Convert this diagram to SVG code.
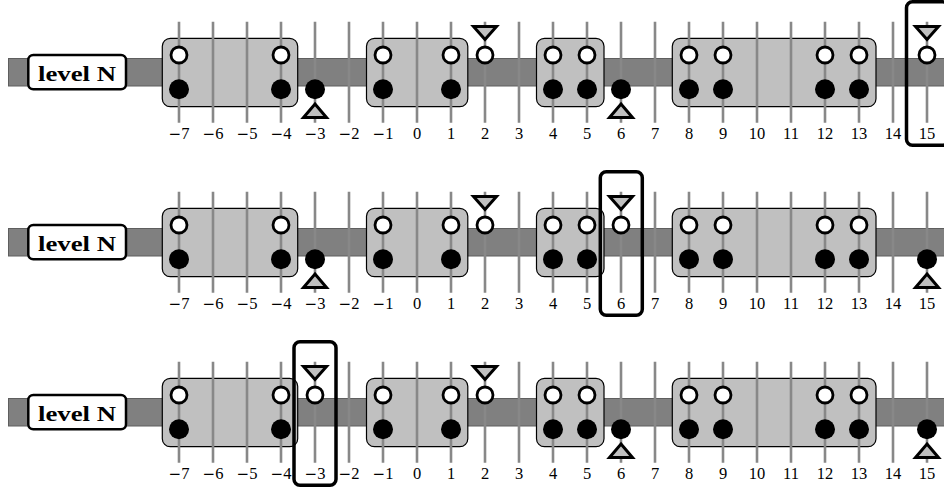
<svg xmlns="http://www.w3.org/2000/svg" xmlns:xlink="http://www.w3.org/1999/xlink" width="944" height="488" viewBox="0 0 944 488">
<style>
.bg{fill:#fff}
.bar{fill:#808080;stroke:#5e5e5e;stroke-width:1}
.box{fill:#c0c0c0;stroke:#000;stroke-width:1.2}
.tick{stroke:#888;stroke-width:2.6;fill:none}
.open{fill:#fff;stroke:#000;stroke-width:2.8}
.full{fill:#000}
.tri{fill:#c0c0c0;stroke:#000;stroke-width:3;stroke-linejoin:miter}
.num{font-family:"Liberation Serif","DejaVu Serif",serif;font-size:16.5px;text-anchor:middle;fill:#000}
.mn{font-family:"DejaVu Serif",serif;font-size:15px}
.lblbox{fill:#fff;stroke:#000;stroke-width:2.5}
.lbl{font-family:"Liberation Serif","DejaVu Serif",serif;font-size:20px;font-weight:bold;text-anchor:middle;fill:#000}
.hl{fill:none;stroke:#000;stroke-width:3.5}
</style>
<defs>
<path id="td" d="M-11.5,26.5 H11.5 L0,39.5 Z"/>
<path id="tu" d="M0,104 L11.5,117.5 H-11.5 Z"/>
<g id="base">
<rect class="bar" x="8.5" y="58.5" width="940" height="27.5"/>
<rect class="box" x="162.3" y="38.3" width="135.4" height="68.4" rx="8"/>
<rect class="box" x="366.5" y="38.3" width="101.3" height="68.4" rx="8"/>
<rect class="box" x="536.5" y="38.3" width="67.5" height="68.4" rx="8"/>
<rect class="box" x="672.3" y="38.3" width="203.7" height="68.4" rx="8"/>
<path class="tick" d="M179,21.7V122.7M213,21.7V122.7M247,21.7V122.7M281,21.7V122.7M315,21.7V122.7M349,21.7V122.7M383,21.7V122.7M417,21.7V122.7M451,21.7V122.7M485,21.7V122.7M519,21.7V122.7M553,21.7V122.7M587,21.7V122.7M621,21.7V122.7M655,21.7V122.7M689,21.7V122.7M723,21.7V122.7M757,21.7V122.7M791,21.7V122.7M825,21.7V122.7M859,21.7V122.7M893,21.7V122.7M927,21.7V122.7"/>
<g class="num">
<text x="179" y="138.5"><tspan class="mn">−</tspan>7</text><text x="213" y="138.5"><tspan class="mn">−</tspan>6</text><text x="247" y="138.5"><tspan class="mn">−</tspan>5</text><text x="281" y="138.5"><tspan class="mn">−</tspan>4</text><text x="315" y="138.5"><tspan class="mn">−</tspan>3</text><text x="349" y="138.5"><tspan class="mn">−</tspan>2</text><text x="383" y="138.5"><tspan class="mn">−</tspan>1</text><text x="417" y="138.5">0</text><text x="451" y="138.5">1</text><text x="485" y="138.5">2</text><text x="519" y="138.5">3</text><text x="553" y="138.5">4</text><text x="587" y="138.5">5</text><text x="621" y="138.5">6</text><text x="655" y="138.5">7</text><text x="689" y="138.5">8</text><text x="723" y="138.5">9</text><text x="757" y="138.5">10</text><text x="791" y="138.5">11</text><text x="825" y="138.5">12</text><text x="859" y="138.5">13</text><text x="893" y="138.5">14</text><text x="927" y="138.5">15</text>
</g>
<g>
<circle class="open" cx="179" cy="55" r="8"/><circle class="full" cx="179" cy="89.3" r="10"/>
<circle class="open" cx="281" cy="55" r="8"/><circle class="full" cx="281" cy="89.3" r="10"/>
<circle class="open" cx="383" cy="55" r="8"/><circle class="full" cx="383" cy="89.3" r="10"/>
<circle class="open" cx="451" cy="55" r="8"/><circle class="full" cx="451" cy="89.3" r="10"/>
<circle class="open" cx="553" cy="55" r="8"/><circle class="full" cx="553" cy="89.3" r="10"/>
<circle class="open" cx="587" cy="55" r="8"/><circle class="full" cx="587" cy="89.3" r="10"/>
<circle class="open" cx="689" cy="55" r="8"/><circle class="full" cx="689" cy="89.3" r="10"/>
<circle class="open" cx="723" cy="55" r="8"/><circle class="full" cx="723" cy="89.3" r="10"/>
<circle class="open" cx="825" cy="55" r="8"/><circle class="full" cx="825" cy="89.3" r="10"/>
<circle class="open" cx="859" cy="55" r="8"/><circle class="full" cx="859" cy="89.3" r="10"/>
</g>
<rect class="lblbox" x="28.3" y="55" width="97.7" height="34.3" rx="5"/>
<text class="lbl" x="77" y="80.5" textLength="78" lengthAdjust="spacingAndGlyphs">level N</text>
</g>
</defs>
<rect class="bg" width="944" height="488"/>

<g id="row1">
<use xlink:href="#base"/>
<g id="r1-m3"><circle class="full" cx="315" cy="89.3" r="10"/><use xlink:href="#tu" class="tri" x="315"/></g>
<g id="r1-p2"><circle class="open" cx="485" cy="55" r="8"/><use xlink:href="#td" class="tri" x="485"/></g>
<g id="r1-p6"><circle class="full" cx="621" cy="89.3" r="10"/><use xlink:href="#tu" class="tri" x="621"/></g>
<g id="r1-p15"><circle class="open" cx="927" cy="55" r="8"/><use xlink:href="#td" class="tri" x="927"/></g>
<rect id="r1-hl" class="hl" x="906.5" y="1.8" width="42" height="143.5" rx="6"/>
</g>

<g id="row2" transform="translate(0,170)">
<use xlink:href="#base"/>
<g id="r2-m3"><circle class="full" cx="315" cy="89.3" r="10"/><use xlink:href="#tu" class="tri" x="315"/></g>
<g id="r2-p2"><circle class="open" cx="485" cy="55" r="8"/><use xlink:href="#td" class="tri" x="485"/></g>
<g id="r2-p6"><circle class="open" cx="621" cy="55" r="8"/><use xlink:href="#td" class="tri" x="621"/></g>
<g id="r2-p15"><circle class="full" cx="927" cy="89.3" r="10"/><use xlink:href="#tu" class="tri" x="927"/></g>
<rect id="r2-hl" class="hl" x="600.3" y="1.8" width="42" height="143.5" rx="6"/>
</g>

<g id="row3" transform="translate(0,340)">
<use xlink:href="#base"/>
<g id="r3-m3"><circle class="open" cx="315" cy="55" r="8"/><use xlink:href="#td" class="tri" x="315"/></g>
<g id="r3-p2"><circle class="open" cx="485" cy="55" r="8"/><use xlink:href="#td" class="tri" x="485"/></g>
<g id="r3-p6"><circle class="full" cx="621" cy="89.3" r="10"/><use xlink:href="#tu" class="tri" x="621"/></g>
<g id="r3-p15"><circle class="full" cx="927" cy="89.3" r="10"/><use xlink:href="#tu" class="tri" x="927"/></g>
<rect id="r3-hl" class="hl" x="294" y="1.8" width="42" height="143.5" rx="6"/>
</g>
</svg>
